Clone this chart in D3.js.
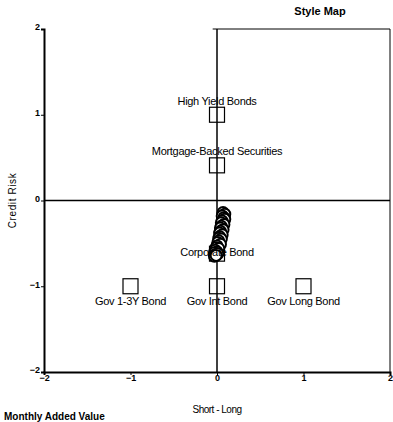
<!DOCTYPE html>
<html>
<head>
<meta charset="utf-8">
<script src="https://cdn.jsdelivr.net/npm/d3@7"></script>
<style>
  body { margin: 0; background: #fff; }
  text { font-family: "Liberation Sans", Arial, sans-serif; fill: #000; }
</style>
</head>
<body>
<svg id="style-map" width="393" height="422"></svg>
<script>
"use strict";

const plotLeft = 44;
const plotRight = 390;
const plotTop = 29;
const plotBottom = 372;

// index positions (short-long, credit risk)
const indexNames = ["High Yield Bonds", "Mortgage-Backed Securities", "Gov 1-3Y Bond", "Gov Int Bond", "Gov Long Bond", "Corporate Bond"];
const indexX = [0, 0, -1, 0, 1, 0];
const indexY = [1, 0.41, -1, -1, -1, -0.62];
// label offset from the square, px
const labelDy = [-10, -10, 19, 19, 19, 2];

// rolling style of the fund
const styleX = [0.07, 0.09, 0.06, 0.08, 0.09, 0.06, 0.05, 0.08, 0.05, 0.04, 0.07, 0.04, 0.03, 0.06, 0.03, 0.02, 0.05, 0.02, 0.01, 0.04, 0.0, -0.01, 0.02, -0.02, 0.0, -0.03, -0.02, 0.01, -0.03, -0.01];
const styleY = [-0.14, -0.16, -0.18, -0.2, -0.22, -0.24, -0.26, -0.28, -0.3, -0.32, -0.34, -0.36, -0.38, -0.4, -0.42, -0.44, -0.45, -0.47, -0.49, -0.51, -0.53, -0.55, -0.56, -0.58, -0.6, -0.61, -0.63, -0.62, -0.65, -0.64];

const xTicks = [-2, -1, 0, 1, 2];
const yTicks = [-2, -1, 0, 1, 2];

const xScale = d3.scaleLinear().domain([-2, 2]).range([plotLeft, plotRight]);
const yScale = d3.scaleLinear().domain([-2, 2]).range([plotBottom, plotTop]);

const svg = d3.select("svg#style-map");

// frame
svg.append("line")
    .attr("x1", xScale(-0.05)).attr("x2", plotRight)
    .attr("y1", plotTop).attr("y2", plotTop)
    .style("stroke", "black").style("stroke-width", 1);
svg.append("line")
    .attr("x1", plotRight).attr("x2", plotRight)
    .attr("y1", plotTop).attr("y2", plotBottom)
    .style("stroke", "black").style("stroke-width", 1);

// zero lines
svg.append("line")
    .attr("x1", plotLeft).attr("x2", plotRight)
    .attr("y1", yScale(0)).attr("y2", yScale(0))
    .style("stroke", "black").style("stroke-width", 1.5);
svg.append("line")
    .attr("x1", xScale(0)).attr("x2", xScale(0))
    .attr("y1", plotTop).attr("y2", plotBottom)
    .style("stroke", "black").style("stroke-width", 1.5);

// axes
const yAxis = svg.append("g")
    .attr("transform", `translate(${plotLeft},0)`)
    .call(d3.axisLeft(yScale).tickValues(yTicks).tickSize(3).tickPadding(1).tickFormat(d3.format("d")));
const xAxis = svg.append("g")
    .attr("transform", `translate(0,${plotBottom})`)
    .call(d3.axisBottom(xScale).tickValues(xTicks).tickSize(3).tickPadding(0).tickFormat(d3.format("d")));

[xAxis, yAxis].forEach(ax => {
    ax.select(".domain").style("stroke", "black").style("stroke-width", 2);
    ax.selectAll("text")
        .style("font-size", "9px")
        .style("font-weight", "bold")
        .style("fill", "black");
});
yAxis.selectAll("text").attr("dy", "0.1em");

// index squares
const idx = indexNames.map((n, i) => ({name: n, x: indexX[i], y: indexY[i], dy: labelDy[i]}));

svg.selectAll("rect.index")
    .data(idx)
    .join("rect")
    .attr("class", "index")
    .attr("x", d => xScale(d.x) - 7.5)
    .attr("y", d => yScale(d.y) - 7.5)
    .attr("width", 15)
    .attr("height", 15)
    .style("fill", "none")
    .style("stroke", "black")
    .style("stroke-width", 1.2);

// style trail
const trail = styleX.map((x, i) => ({x: x, y: styleY[i]}));
svg.selectAll("circle")
    .data(trail)
    .join("circle")
    .attr("cx", d => xScale(d.x))
    .attr("cy", d => yScale(d.y))
    .attr("r", 5.5)
    .style("fill", "white")
    .style("stroke", "black")
    .style("stroke-width", 2);

svg.selectAll("text.index-label")
    .data(idx)
    .join("text")
    .attr("class", "index-label")
    .attr("x", d => xScale(d.x))
    .attr("y", d => yScale(d.y) + d.dy)
    .attr("text-anchor", "middle")
    .style("font-size", "11px")
    .style("letter-spacing", "-0.3px")
    .text(d => d.name);

// titles
svg.append("text")
    .attr("x", 320).attr("y", 15)
    .attr("text-anchor", "middle")
    .style("font-size", "11px").style("font-weight", "bold")
    .text("Style Map");

svg.append("text")
    .attr("x", xScale(0)).attr("y", 413)
    .attr("text-anchor", "middle")
    .style("font-size", "10px").style("letter-spacing", "-0.5px")
    .text("Short - Long");

svg.append("text")
    .attr("transform", `translate(16,${yScale(0)}) rotate(-90)`)
    .attr("text-anchor", "middle")
    .style("font-size", "10px").style("letter-spacing", "0.6px")
    .text("Credit Risk");

svg.append("text")
    .attr("x", 4).attr("y", 420)
    .style("font-size", "10px").style("font-weight", "bold")
    .text("Monthly Added Value");
</script>
</body>
</html>
